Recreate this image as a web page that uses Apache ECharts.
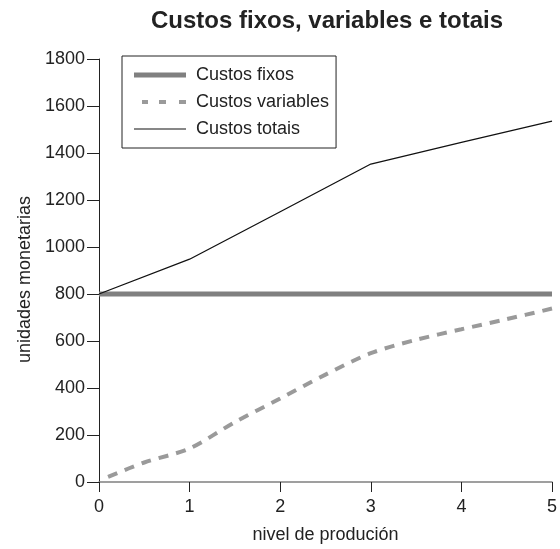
<!DOCTYPE html>
<html>
<head>
<meta charset="utf-8">
<script src="https://cdn.jsdelivr.net/npm/echarts@6/dist/echarts.min.js"></script>
<style>html,body{margin:0;padding:0;background:#fff}#c{width:560px;height:549px}</style>
</head>
<body>
<div id="c"></div>
<script>
var titleText = 'Custos fixos, variables e totais';
var xTicks = [0, 1, 2, 3, 4, 5];
var fixedX = [0, 5];
var fixedY = [800, 800];
var variableX = [0.1, 0.5, 1, 1.5, 2, 2.5, 3, 3.5, 4, 4.5, 5];
var variableY = [22, 83, 143, 255, 355, 457, 548, 605, 650, 693, 738];
var totalX = [0, 1, 2, 3, 4, 5];
var totalY = [800, 948, 1150, 1353, 1445, 1536];
var seriesNames = ['Custos fixos', 'Custos variables', 'Custos totais'];

function pairs(xs, ys) { return xs.map(function (x, i) { return [x, ys[i]]; }); }

var font = 'Liberation Sans, Arial, Helvetica, sans-serif';
var box = 'M0,0M52,18';
var legendIcons = [
  'path://' + box + 'M0,6.5L52,6.5L52,11.5L0,11.5Z',
  'path://' + box + 'M8,7L14,7L14,11L8,11ZM25,7L32,7L32,11L25,11ZM45,7L52,7L52,11L45,11Z',
  'path://' + box + 'M0,8.4L52,8.4L52,9.6L0,9.6Z'
];
var legendColors = ['#808080', '#9a9a9a', '#111'];

var chart = echarts.init(document.getElementById('c'), null, { renderer: 'canvas' });
chart.setOption({
  animation: false,
  backgroundColor: '#fff',
  textStyle: { fontFamily: font },
  title: {
    text: titleText, left: 146, top: 4,
    textStyle: { fontSize: 24, fontWeight: 'bold', color: '#222', fontFamily: font }
  },
  legend: {
    orient: 'vertical', left: 122, top: 56,
    padding: [10, 7, 10, 12], itemGap: 9, itemWidth: 52, itemHeight: 18,
    borderColor: '#222', borderWidth: 1, borderRadius: 0,
    data: seriesNames.map(function (n, i) {
      return { name: n, icon: legendIcons[i], itemStyle: { color: legendColors[i], borderWidth: 0 } };
    }),
    textStyle: { fontSize: 18, color: '#222', padding: [0, 0, 0, 5], fontFamily: font }
  },
  grid: { left: 99, right: 6, top: 59, bottom: 63 },
  xAxis: {
    type: 'value', min: 0, max: 5, interval: 1,
    name: 'nivel de produción', nameLocation: 'middle', nameGap: 44,
    nameTextStyle: { fontSize: 18, color: '#222', fontFamily: font },
    axisLine: { show: true, lineStyle: { color: '#808080', width: 1.5 } },
    axisTick: { show: true, length: 10, lineStyle: { color: '#222' } },
    axisLabel: { fontSize: 18, color: '#222', margin: 16, fontFamily: font },
    splitLine: { show: false }
  },
  yAxis: {
    type: 'value', min: 0, max: 1800, interval: 200,
    name: 'unidades monetarias', nameLocation: 'middle', nameGap: 64, nameRotate: 90,
    nameTextStyle: { fontSize: 18, color: '#222', padding: [0, 18, 0, 0], fontFamily: font },
    axisLine: { show: true, lineStyle: { color: '#222', width: 1 } },
    axisTick: { show: true, length: 12, lineStyle: { color: '#222' } },
    axisLabel: { fontSize: 18, color: '#222', margin: 14, fontFamily: font,
      formatter: function (v) { return String(v); } },
    splitLine: { show: false }
  },
  series: [
    {
      name: seriesNames[0], type: 'line', data: pairs(fixedX, fixedY),
      symbol: 'none', z: 3,
      lineStyle: { color: '#808080', width: 5, cap: 'butt' },
      itemStyle: { color: '#808080' }
    },
    {
      name: seriesNames[1], type: 'line', data: pairs(variableX, variableY),
      symbol: 'none', smooth: 0.3, z: 2,
      lineStyle: { color: '#9a9a9a', width: 4, type: [10, 8], cap: 'butt' },
      itemStyle: { color: '#9a9a9a' }
    },
    {
      name: seriesNames[2], type: 'line', data: pairs(totalX, totalY),
      symbol: 'none', z: 4,
      lineStyle: { color: '#111', width: 1.3 },
      itemStyle: { color: '#111' }
    }
  ]
});
</script>
</body>
</html>
